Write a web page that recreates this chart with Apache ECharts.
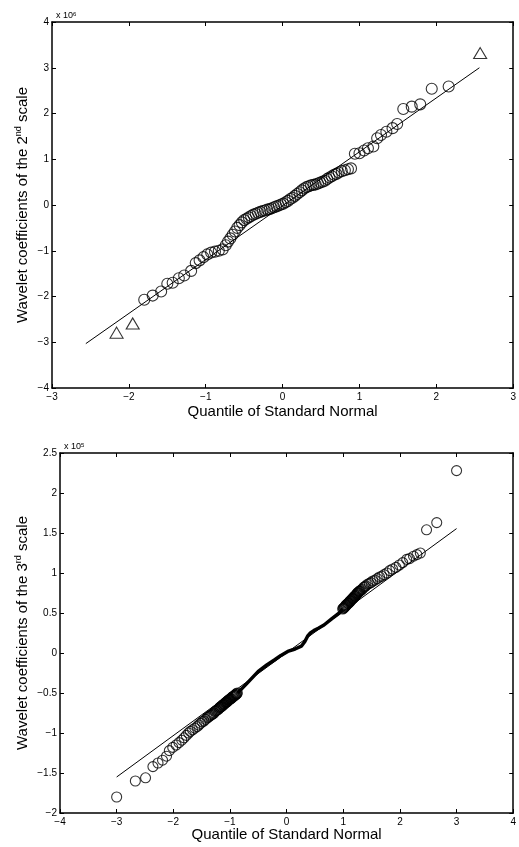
<!DOCTYPE html>
<html>
<head>
<meta charset="utf-8">
<script src="https://cdn.jsdelivr.net/npm/echarts@6/dist/echarts.min.js"></script>
<style>
  html, body { margin: 0; padding: 0; background: #fff; }
  #chart { width: 519px; height: 847px; }
</style>
</head>
<body>
<div id="chart"></div>
<script>
// ---- top panel: 2nd scale (values x 10^6) ----
var scale2Circles = [
  [-1.80, -2.07], [-1.69, -1.98], [-1.58, -1.89], [-1.50, -1.72], [-1.43, -1.70],
  [-1.35, -1.60], [-1.28, -1.54], [-1.19, -1.44], [-1.13, -1.27], [-1.08, -1.21],
  [-1.03, -1.14], [-0.98, -1.08], [-0.93, -1.04], [-0.88, -1.02], [-0.83, -1.00],
  [-0.78, -0.97], [-0.74, -0.88], [-0.71, -0.80], [-0.68, -0.73], [-0.65, -0.65],
  [-0.62, -0.58], [-0.59, -0.50], [-0.56, -0.44], [-0.53, -0.38], [-0.50, -0.33],
  [-0.47, -0.30], [-0.44, -0.27], [-0.41, -0.24], [-0.38, -0.21], [-0.35, -0.19],
  [-0.32, -0.17], [-0.29, -0.15], [-0.26, -0.13], [-0.23, -0.12], [-0.20, -0.10],
  [-0.17, -0.09], [-0.14, -0.07], [-0.11, -0.05], [-0.08, -0.03], [-0.05, -0.01],
  [-0.02, 0.01], [0.01, 0.03], [0.04, 0.06], [0.07, 0.09], [0.10, 0.13],
  [0.13, 0.16], [0.16, 0.20], [0.19, 0.24], [0.22, 0.28], [0.25, 0.32],
  [0.28, 0.36], [0.31, 0.39], [0.34, 0.41], [0.37, 0.43], [0.40, 0.44],
  [0.43, 0.45], [0.46, 0.47], [0.49, 0.49], [0.52, 0.51], [0.55, 0.53],
  [0.58, 0.57], [0.61, 0.60], [0.64, 0.63], [0.67, 0.66], [0.70, 0.68],
  [0.73, 0.71], [0.77, 0.74], [0.81, 0.76], [0.85, 0.78], [0.89, 0.80],
  [0.94, 1.12], [1.00, 1.13], [1.06, 1.19], [1.11, 1.24], [1.18, 1.28],
  [1.23, 1.46], [1.28, 1.53], [1.35, 1.60], [1.43, 1.68], [1.49, 1.77],
  [1.57, 2.10], [1.68, 2.15], [1.79, 2.20], [1.94, 2.54], [2.16, 2.59]
];
var scale2Outliers = [[-2.16, -2.79], [-1.95, -2.59], [2.57, 3.32]];
var scale2RefLine = [[-2.56, -3.03], [2.56, 3.00]];
var scale2XTicks = { min: -3, max: 3, interval: 1 };
var scale2YTicks = { min: -4, max: 4, interval: 1 };

// ---- bottom panel: 3rd scale (values x 10^5) ----
var scale3LowTail = [
  [-3.00, -1.80], [-2.67, -1.60], [-2.49, -1.56], [-2.36, -1.42], [-2.27, -1.375],
  [-2.19, -1.34], [-2.12, -1.29], [-2.07, -1.22], [-2.01, -1.18], [-1.95, -1.15],
  [-1.90, -1.12], [-1.85, -1.09], [-1.81, -1.06], [-1.77, -1.03], [-1.73, -1.00]
];
var scale3LowBand = [
  [-1.70, -0.98], [-1.66, -0.96], [-1.62, -0.94], [-1.58, -0.92], [-1.55, -0.90],
  [-1.52, -0.88], [-1.49, -0.86], [-1.46, -0.85], [-1.43, -0.83], [-1.40, -0.81],
  [-1.38, -0.80], [-1.36, -0.79], [-1.34, -0.78], [-1.32, -0.77], [-1.30, -0.76],
  [-1.28, -0.75], [-1.26, -0.73], [-1.24, -0.72], [-1.22, -0.71], [-1.20, -0.70],
  [-1.19, -0.69], [-1.18, -0.68], [-1.17, -0.68], [-1.16, -0.67], [-1.15, -0.67],
  [-1.14, -0.66], [-1.13, -0.65], [-1.12, -0.65], [-1.11, -0.64], [-1.10, -0.64],
  [-1.09, -0.63], [-1.08, -0.62], [-1.07, -0.62], [-1.06, -0.61], [-1.05, -0.61],
  [-1.04, -0.60], [-1.03, -0.59], [-1.02, -0.59], [-1.01, -0.58], [-1.00, -0.58],
  [-0.99, -0.57], [-0.98, -0.57], [-0.97, -0.56], [-0.96, -0.55], [-0.95, -0.55],
  [-0.94, -0.54], [-0.93, -0.54], [-0.92, -0.53], [-0.91, -0.53], [-0.90, -0.52],
  [-0.89, -0.51], [-0.88, -0.51], [-0.87, -0.50]
];
var scale3Middle = [
  [-0.865, -0.50], [-0.70, -0.38], [-0.50, -0.23], [-0.35, -0.15], [-0.21, -0.085],
  [-0.10, -0.03], [0.02, 0.02], [0.15, 0.05], [0.26, 0.085], [0.32, 0.14],
  [0.37, 0.21], [0.42, 0.25], [0.48, 0.28], [0.56, 0.31], [0.66, 0.35],
  [0.80, 0.43], [0.93, 0.50], [0.99, 0.55]
];
var scale3HighBand = [
  [0.99, 0.55], [1.00, 0.56], [1.01, 0.56], [1.02, 0.57], [1.03, 0.58],
  [1.04, 0.59], [1.05, 0.60], [1.06, 0.60], [1.07, 0.61], [1.08, 0.62],
  [1.09, 0.62], [1.10, 0.63], [1.11, 0.64], [1.12, 0.65], [1.13, 0.65],
  [1.14, 0.66], [1.15, 0.67], [1.16, 0.68], [1.17, 0.68], [1.18, 0.69],
  [1.19, 0.70], [1.20, 0.71], [1.21, 0.71], [1.22, 0.72], [1.23, 0.73],
  [1.24, 0.74], [1.25, 0.75], [1.26, 0.75], [1.27, 0.76], [1.28, 0.77],
  [1.29, 0.77], [1.30, 0.78], [1.32, 0.79], [1.34, 0.80], [1.36, 0.82],
  [1.38, 0.83], [1.40, 0.84], [1.43, 0.86], [1.46, 0.87], [1.49, 0.88],
  [1.52, 0.90], [1.56, 0.91], [1.60, 0.93], [1.64, 0.95], [1.68, 0.96],
  [1.72, 0.98], [1.77, 1.00], [1.82, 1.03], [1.87, 1.05], [1.93, 1.07],
  [1.99, 1.10], [2.05, 1.13], [2.12, 1.17]
];
var scale3HighTail = [
  [2.17, 1.18], [2.24, 1.21], [2.30, 1.23], [2.36, 1.25], [2.47, 1.54],
  [2.65, 1.63], [3.00, 2.28]
];
var scale3RefLine = [[-3.00, -1.55], [3.00, 1.555]];
var scale3XTicks = { min: -4, max: 4, interval: 1 };
var scale3YTicks = { min: -2, max: 2.5, interval: 0.5 };

var FONT = "'Liberation Sans', Arial, Helvetica, sans-serif";

function minus(v) {
  return String(v).replace('-', '\u2212');
}

// bottom/left axes carry labels, top/right ones only mirror the ticks (box look)
function xAxes(grid, ticks, gap) {
  var base = {
    gridIndex: grid, type: 'value', min: ticks.min, max: ticks.max, interval: ticks.interval,
    splitLine: { show: false },
    axisLine: { onZero: false, lineStyle: { color: '#000', width: 1.5 } },
    axisTick: { inside: true, length: 4, lineStyle: { color: '#000' } }
  };
  return [
    Object.assign({}, base, {
      position: 'bottom',
      axisLabel: { color: '#000', fontSize: 10, margin: 4, formatter: minus, fontFamily: FONT },
      name: 'Quantile of Standard Normal', nameLocation: 'middle', nameGap: gap,
      nameMoveOverlap: false,
      nameTextStyle: { color: '#000', fontSize: 15, fontFamily: FONT }
    }),
    Object.assign({}, base, { position: 'top', axisLabel: { show: false } })
  ];
}

function yAxes(grid, ticks, name, gap) {
  var base = {
    gridIndex: grid, type: 'value', min: ticks.min, max: ticks.max, interval: ticks.interval,
    splitLine: { show: false },
    axisLine: { onZero: false, lineStyle: { color: '#000', width: 1.5 } },
    axisTick: { inside: true, length: 4, lineStyle: { color: '#000' } }
  };
  return [
    Object.assign({}, base, {
      position: 'left',
      axisLabel: { color: '#000', fontSize: 10, margin: 3, formatter: minus, fontFamily: FONT },
      name: name, nameLocation: 'middle', nameGap: gap,
      nameMoveOverlap: false,
      nameTextStyle: {
        color: '#000', fontFamily: FONT,
        rich: {
          a: { fontSize: 15, color: '#000', fontFamily: FONT, lineHeight: 17 },
          s: { fontSize: 9, color: '#000', fontFamily: FONT, verticalAlign: 'top', lineHeight: 17, padding: [0, 0, 6, 0] }
        }
      }
    }),
    Object.assign({}, base, { position: 'right', axisLabel: { show: false } })
  ];
}

function rings(data, xi, yi, size, symbol) {
  return {
    type: 'scatter', xAxisIndex: xi, yAxisIndex: yi, data: data,
    symbol: symbol || 'circle', symbolSize: size, silent: true,
    itemStyle: { color: 'rgba(0,0,0,0)', borderColor: '#000', borderWidth: 1.1 }
  };
}

function line(data, xi, yi, width) {
  return {
    type: 'line', xAxisIndex: xi, yAxisIndex: yi, data: data,
    showSymbol: false, silent: true, smooth: false,
    lineStyle: { color: '#000', width: width }
  };
}

function exponentLabel(text, sup, left, top) {
  return {
    text: '{a|' + text + '}{s|' + sup + '}', left: left, top: top,
    textStyle: { fontWeight: 'normal', rich: {
      a: { fontSize: 9, color: '#000', fontFamily: FONT, fontWeight: 'normal' },
      s: { fontSize: 6, color: '#000', fontFamily: FONT, fontWeight: 'normal', verticalAlign: 'top' }
    } }
  };
}

var chart = echarts.init(document.getElementById('chart'), null, { renderer: 'canvas' });

chart.setOption({
  animation: false,
  backgroundColor: '#fff',
  textStyle: { fontFamily: FONT },
  title: [
    exponentLabel('x 10', '6', 51, 6),
    exponentLabel('x 10', '5', 59, 437)
  ],
  grid: [
    { left: 52, top: 22, right: 2, height: 366 },
    { left: 60, top: 453, right: 2, height: 360 }
  ],
  xAxis: xAxes(0, scale2XTicks, 16).concat(xAxes(1, scale3XTicks, 14)),
  yAxis: yAxes(0, scale2YTicks, '{a|Wavelet coefficients of the 2}{s|nd}{a| scale}', 21)
    .concat(yAxes(1, scale3YTicks, '{a|Wavelet coefficients of the 3}{s|rd}{a| scale}', 29)),
  series: [
    line(scale2RefLine, 0, 0, 1),
    rings(scale2Circles, 0, 0, 11),
    rings(scale2Outliers, 0, 0, [13, 11], 'triangle'),

    line(scale3RefLine, 2, 2, 1),
    line(scale3Middle, 2, 2, 3.5),
    rings(scale3LowTail, 2, 2, 10),
    rings(scale3LowBand, 2, 2, 10),
    rings(scale3HighBand, 2, 2, 10),
    rings(scale3HighTail, 2, 2, 10)
  ]
});
</script>
</body>
</html>
